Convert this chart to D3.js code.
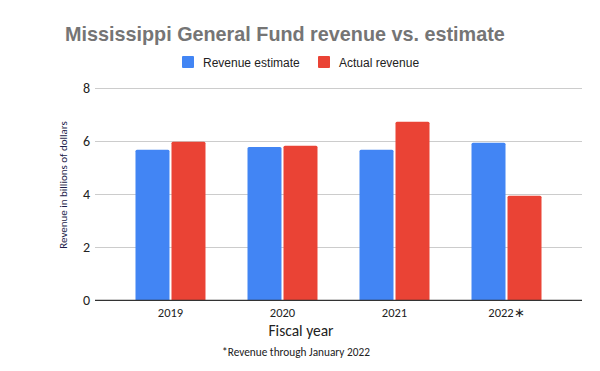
<!DOCTYPE html>
<html>
  <head>
    <meta charset="utf-8" />
    <script src="https://d3js.org/d3.v7.min.js"></script>
    <style>
      body { margin: 0; background: #fff; }
      svg { display: block; }
      .grid line { stroke: #cccccc; shape-rendering: crispEdges; }
      .grid path.domain { display: none; }
    </style>
  </head>
  <body>
    <svg width="600" height="371"></svg>
    <script>
      const years = ["2019", "2020", "2021", "2022"];
      const yearLabels = ["2019", "2020", "2021", "2022\u2217"];
      const series = ["Revenue estimate", "Actual revenue"];
      const estimate = [5.67, 5.78, 5.67, 5.94];
      const actual = [5.97, 5.82, 6.73, 3.94];
      const yTicks = [0, 2, 4, 6, 8];
      const colors = ["#4285f4", "#ea4335"];

      const svg = d3.select("svg");
      const calibri = "Carlito, Lato, 'Open Sans', sans-serif";

      // scales
      const x = d3.scaleBand().domain(years).range([95, 582])
        .paddingInner(0).paddingOuter(0.174);
      const xs = d3.scaleBand().domain(series).range([0, 70]).paddingInner(2 / 36);
      const y = d3.scaleLinear().domain([0, 8]).range([300.3, 88]);

      // gridlines
      svg.append("g")
        .attr("class", "grid")
        .attr("transform", "translate(95,0)")
        .call(d3.axisLeft(y).tickValues(yTicks.slice(1)).tickSize(-487).tickFormat(""));

      // y tick labels
      svg.append("g")
        .selectAll("text")
        .data(yTicks)
        .join("text")
        .attr("x", 90)
        .attr("y", (d) => y(d) + 5)
        .attr("text-anchor", "end")
        .style("font-family", calibri)
        .style("font-size", "14px")
        .style("fill", "#222")
        .text((d) => d);

      // bars
      const rows = years.map((yr, i) => ({ year: yr, values: [estimate[i], actual[i]] }));
      const groups = svg.append("g")
        .selectAll("g")
        .data(rows)
        .join("g")
        .attr("transform", (d) => `translate(${x(d.year) + (x.bandwidth() - 70) / 2},0)`);

      groups.selectAll("path")
        .data((d) => d.values.map((v, j) => ({ key: series[j], v: v, c: colors[j] })))
        .join("path")
        .attr("d", (d) => {
          const x0 = xs(d.key), w = xs.bandwidth(), t = y(d.v), b = y(0), r = 1.5;
          return `M${x0},${b}V${t + r}Q${x0},${t} ${x0 + r},${t}H${x0 + w - r}Q${x0 + w},${t} ${x0 + w},${t + r}V${b}Z`;
        })
        .attr("fill", (d) => d.c);

      // baseline
      svg.append("line")
        .attr("x1", 95).attr("x2", 582)
        .attr("y1", y(0)).attr("y2", y(0))
        .attr("stroke", "#333").attr("stroke-width", 1.3);

      // x tick labels
      svg.append("g")
        .selectAll("text")
        .data(years)
        .join("text")
        .attr("x", (d) => x(d) + x.bandwidth() / 2)
        .attr("y", 317)
        .attr("text-anchor", "middle")
        .style("font-family", calibri)
        .style("font-size", "12.5px")
        .style("fill", "#222")
        .text((d, i) => yearLabels[i]);

      // axis titles
      svg.append("text")
        .attr("x", 301).attr("y", 336)
        .attr("text-anchor", "middle")
        .style("font-family", calibri)
        .style("font-size", "15.5px")
        .style("fill", "#222")
        .text("Fiscal year");

      svg.append("text")
        .attr("transform", "translate(67,185) rotate(-90)")
        .attr("text-anchor", "middle")
        .style("font-family", calibri)
        .style("font-size", "11px")
        .style("fill", "#1c1c4a")
        .text("Revenue in billions of dollars");

      // footnote
      svg.append("text")
        .attr("x", 296).attr("y", 356)
        .attr("text-anchor", "middle")
        .style("font-family", calibri)
        .style("font-size", "11.3px")
        .style("fill", "#222")
        .text("*Revenue through January 2022");

      // title
      svg.append("text")
        .attr("x", 65).attr("y", 41)
        .style("font-family", "'Liberation Sans', Arial, sans-serif")
        .style("font-weight", "bold")
        .style("font-size", "19.8px")
        .style("fill", "#757575")
        .text("Mississippi General Fund revenue vs. estimate");

      // legend
      const legendX = [182, 318];
      const legend = svg.append("g")
        .selectAll("g")
        .data(series)
        .join("g")
        .attr("transform", (d, i) => `translate(${legendX[i]},56)`);
      legend.append("rect")
        .attr("width", 12).attr("height", 12).attr("rx", 1)
        .attr("fill", (d, i) => colors[i]);
      legend.append("text")
        .attr("x", 21).attr("y", 10.5)
        .style("font-family", "'Liberation Sans', Arial, sans-serif")
        .style("font-size", "12px")
        .style("fill", "#222")
        .text((d) => d);
    </script>
  </body>
</html>
